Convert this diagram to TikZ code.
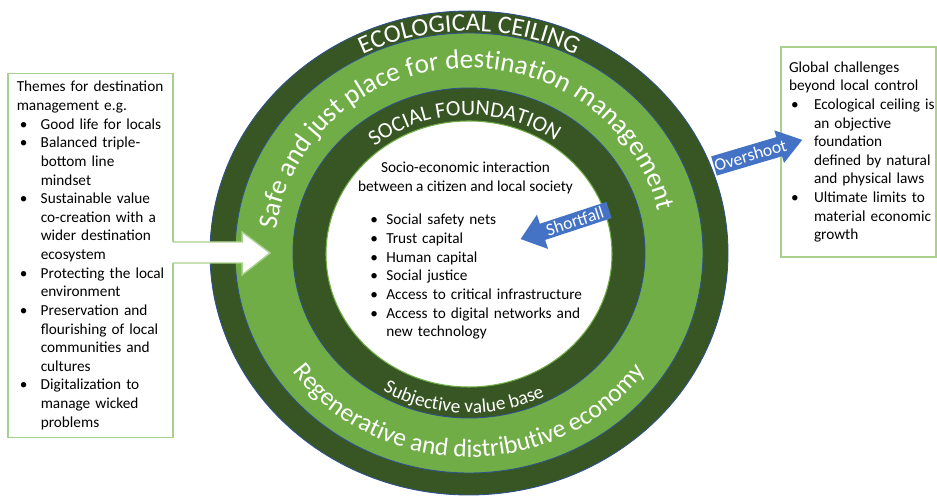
\documentclass[tikz,border=0pt]{standalone}
\usepackage{fontspec}
\setmainfont{Carlito}
\usetikzlibrary{decorations.text,calc,positioning}

\definecolor{ecodark}{HTML}{375623}
\definecolor{ecolight}{HTML}{70AD47}
\definecolor{ringline}{HTML}{2F528F}
\definecolor{boxgreen}{HTML}{A9D18E}
\definecolor{flowblue}{HTML}{4472C4}

\newlength\bulpre
\newlength\bulind
\newcommand\bpoint[1]{\par\noindent\hangindent=\bulind\hangafter=1\makebox[\bulind][l]{\hspace{\bulpre}\textbullet}#1\par}
\newcommand\boxfont{\fontsize{8.7}{10.6}\selectfont}

\tikzset{
  ring/.style={
    draw=ringline,
    line width=0.5pt
  },
  ringtext/.style={
    decorate,
    decoration={text along path, text align=center, text color=white, text={#1}}
  },
  textbox/.style={
    align=left,
    font=\boxfont,
    inner ysep=0pt,
    execute at begin node={\setlength\parindent{0pt}\hyphenpenalty=10000\exhyphenpenalty=10000}
  },
  bullets/.style n args={3}{
    execute at begin node={\setlength\bulpre{#1}\setlength\bulind{#2}\setlength\leftskip{#3}}
  },
  boxedge/.style={
    draw=boxgreen,
    line width=0.8pt
  },
  flowlabel/.style={
    text=white,
    font=\fontsize{10}{12}\selectfont,
    inner sep=0pt
  }
}

\begin{document}
\begin{tikzpicture}[x=0.02cm, y=0.02cm]
  \useasboundingbox (-469,-246) rectangle (468,253);
  % doughnut rings
  \filldraw[ring, fill=ecodark] (0,0) ellipse[x radius=259, y radius=242];
  \filldraw[ring, fill=ecolight] (0,0) ellipse[x radius=234, y radius=220];
  \filldraw[ring, fill=ecodark] (0,0) ellipse[x radius=176, y radius=165];
  \filldraw[fill=white, draw=ecolight, line width=0.6pt] (0,-1) ellipse[x radius=143, y radius=133];

  % texts along the rings
  \path[ringtext={|\fontsize{14.5}{14.5}\selectfont|ECOLOGICAL CEILING}]
    (150:237 and 222) arc[start angle=150, end angle=30, x radius=237, y radius=222];
  \path[ringtext={|\fontsize{15.5}{15.5}\selectfont|Safe and just place for destination management}]
    (182:194 and 185) arc[start angle=182, end angle=4, x radius=194, y radius=185];
  \path[ringtext={|\fontsize{12.5}{12.5}\selectfont|SOCIAL FOUNDATION}]
    (152:148 and 138) arc[start angle=152, end angle=32, x radius=148, y radius=138];
  \path[ringtext={|\fontsize{11}{11}\selectfont|Subjective value base}]
    (218:170 and 160) arc[start angle=218, end angle=318, x radius=170, y radius=160];
  \path[ringtext={|\fontsize{14.5}{14.5}\selectfont|Regenerative and distributive economy}]
    (195:217 and 204) arc[start angle=195, end angle=345, x radius=217, y radius=204];

  % centre
  \node[textbox, align=center, inner sep=0pt, anchor=north] (socio) at (-3.5,91)
    {Socio-economic interaction\\between a citizen and local society};
  \node[textbox, text width=4.4cm, inner sep=0pt, anchor=north west, bullets={0cm}{0.32cm}{0cm}] (needs) at (-99,47) {
    \bpoint{Social safety nets}
    \bpoint{Trust capital}
    \bpoint{Human capital}
    \bpoint{Social justice}
    \bpoint{Access to critical infrastructure}
    \bpoint{Access to digital networks and\newline new technology}};

  % left box
  \node[textbox, text width=3.15cm, inner xsep=0.07cm, minimum height=7.26cm, bullets={0.06cm}{0.48cm}{0.1cm}] (themes) at (-378.5,-2.5) {
    Themes for destination\\management e.g.
    \bpoint{Good life for locals}
    \bpoint{Balanced triple-\newline bottom line\newline mindset}
    \bpoint{Sustainable value\newline co-creation with a\newline wider destination\newline ecosystem}
    \bpoint{Protecting the local\newline environment}
    \bpoint{Preservation and\newline flourishing of local\newline communities and\newline cultures}
    \bpoint{Digitalization to\newline manage wicked\newline problems}};
  \draw[boxedge] ($(themes.east)+(0,13.5)$) |- (themes.north west) |- (themes.south east) -- ($(themes.east)+(0,-7.5)$);
  \draw[boxedge, fill=white] ($(themes.east)+(0,13.5)$) -- ++(69,0) -- ++(0,10) -- ++(28,-21) -- ++(-28,-22) -- ++(0,12)
    -- ($(themes.east)+(0,-7.5)$);

  % right box
  \node[textbox, draw=boxgreen, line width=0.8pt, text width=3.1cm, inner xsep=0pt, minimum height=4.2cm,
    bullets={0.04cm}{0.5cm}{0.16cm}] (challenges) at (389.5,101) {
    Global challenges\\beyond local control
    \bpoint{Ecological ceiling is\newline an objective\newline foundation\newline defined by natural\newline and physical laws}
    \bpoint{Ultimate limits to\newline material economic\newline growth}};

  % block arrows
  \begin{scope}[shift={(245,87)}, rotate=16.5]
    \fill[flowblue] (0,-10) -- (68,-10) -- (68,-17) -- (92,0) -- (68,17) -- (68,10) -- (0,10) -- cycle;
    \node[flowlabel, rotate=16.5] (over) at (38,0) {Overshoot};
  \end{scope}
  \begin{scope}[shift={(140,43)}, rotate=198.2]
    \fill[flowblue] (0,-8.5) -- (70,-8.5) -- (70,-18) -- (93,0) -- (70,18) -- (70,8.5) -- (0,8.5) -- cycle;
    \node[flowlabel, rotate=18.2] (short) at (36,0) {Shortfall};
  \end{scope}
\end{tikzpicture}
\end{document}
